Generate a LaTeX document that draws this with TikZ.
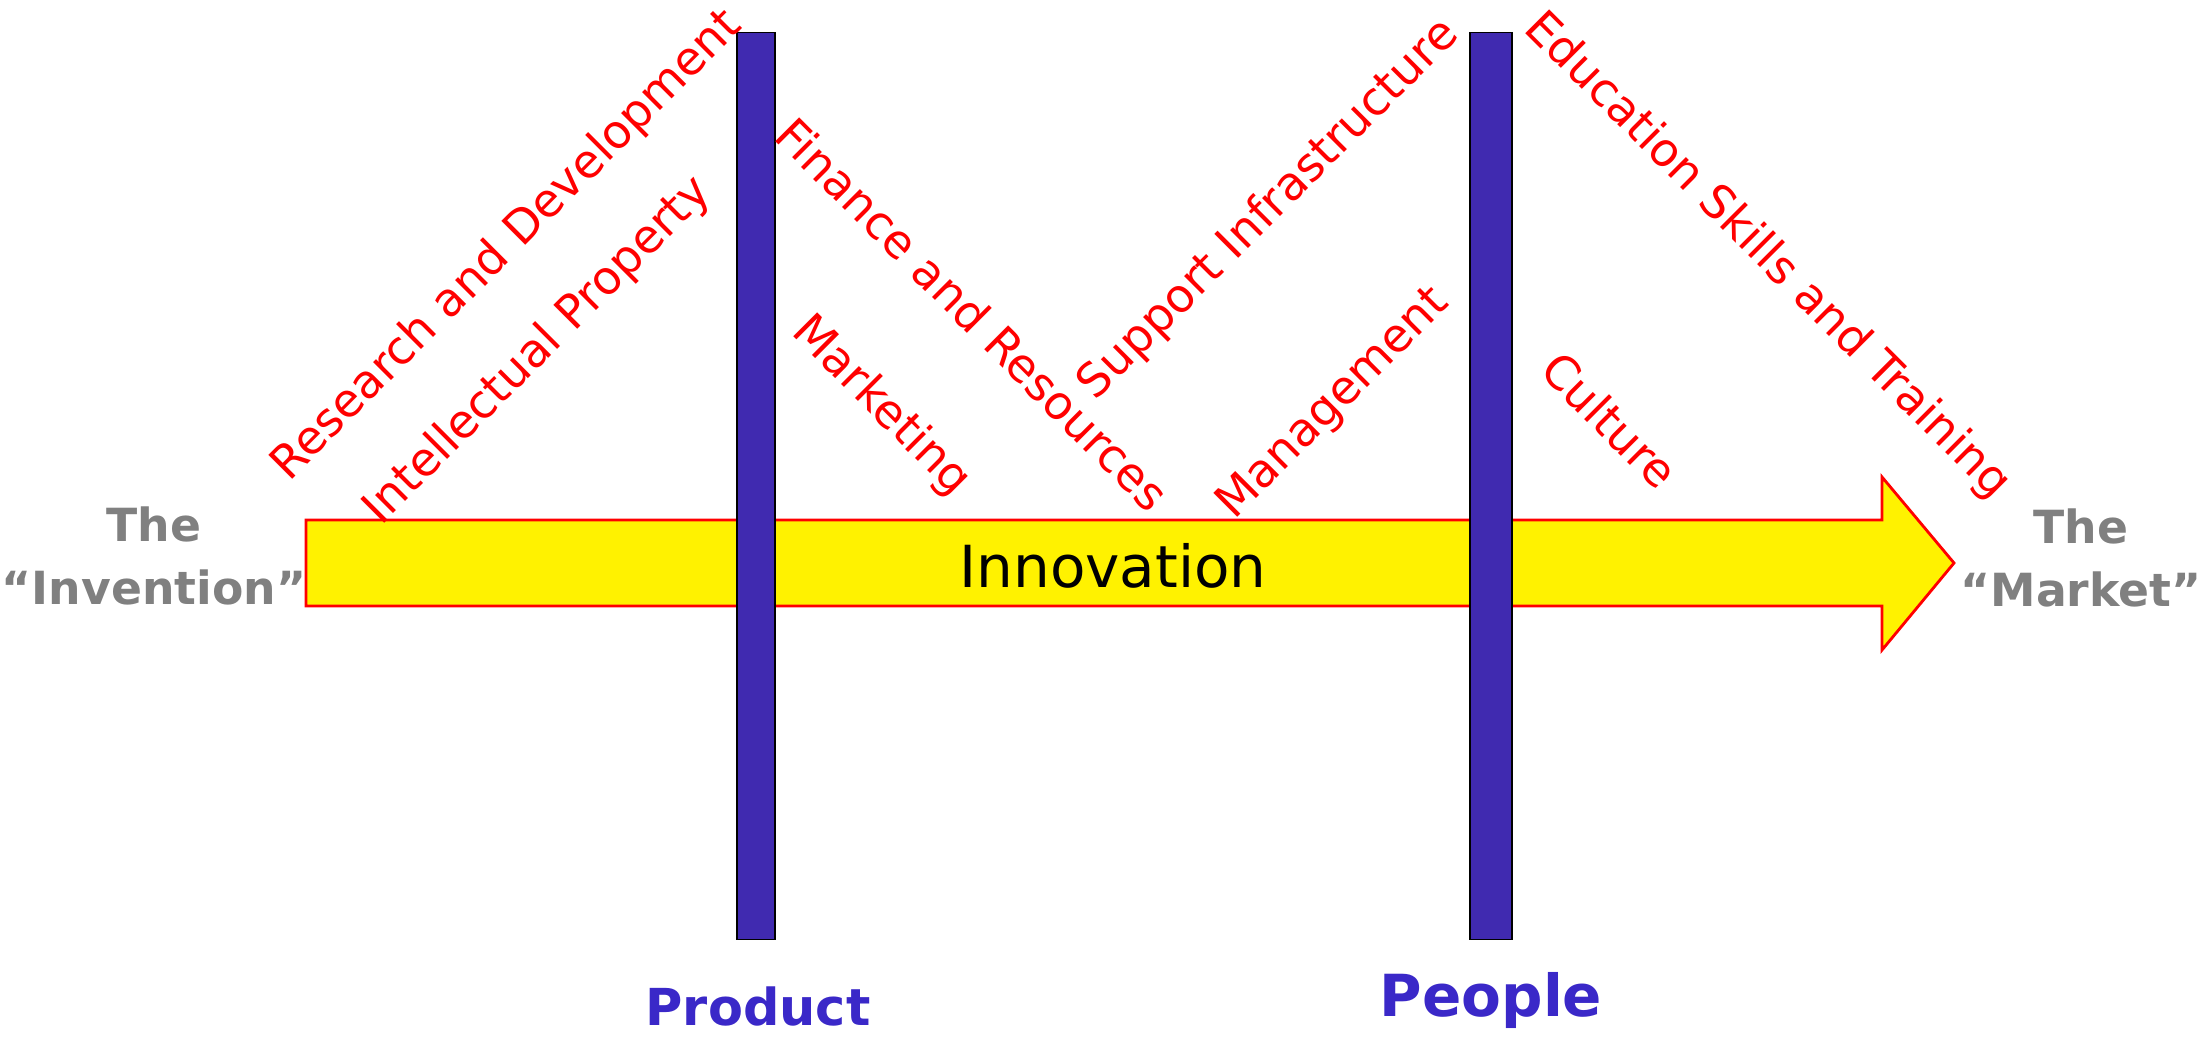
\documentclass[tikz,border=0pt]{standalone}
\usepackage{fontspec}
\setmainfont{DejaVu Sans}
\usetikzlibrary{positioning}
\definecolor{pillarblue}{RGB}{64,42,176}
\definecolor{labelblue}{RGB}{58,40,200}
\definecolor{endgray}{RGB}{128,128,128}

\begin{document}
\begin{tikzpicture}[
    x=0.1mm, y=-0.1mm,
    pillar/.style={draw=black, fill=pillarblue, line width=0.5pt,
                   minimum height=90.7mm, inner sep=0pt},
    pillarname/.style={text=labelblue, font=\bfseries\fontsize{14.5}{17}\selectfont},
    factor/.style={text=red, font=\fontsize{13.2}{16}\selectfont, inner sep=0pt},
    endpoint/.style={text=endgray, align=center, font=\bfseries\fontsize{13}{18}\selectfont},
]
  \useasboundingbox (0,0) rectangle (2201,1049);

  % the arrow
  \filldraw[fill=yellow, draw=red, line width=0.8pt]
    (306,520) -- (1882,520) -- (1882,477) -- (1954,563)
    -- (1882,650) -- (1882,606) -- (306,606) -- cycle;

  % the two pillars
  \node[pillar, minimum width=3.8mm] (prodbar) at (756,486) {};
  \node[pillar, minimum width=4.2mm] (peoplebar) at (1491,486) {};
  \node[pillarname] (product) at (758,1006) {Product};
  \node[pillarname, font=\bfseries\fontsize{16.5}{19}\selectfont] (people) at (1491,1000) {People};

  \node[font=\fontsize{16.5}{20}\selectfont] (innov) at (1113,566) {Innovation};
  \node[endpoint] (invention) at (154,556) {The\\“Invention”};
  \node[endpoint] (market) at (2081,558) {The\\“Market”};

  % factors along the way
  \node[factor, rotate=45]  (rd)      at (507,246)  {Research and Development};
  \node[factor, rotate=45]  (ip)      at (538,351)  {Intellectual Property};
  \node[factor, rotate=-45] (finance) at (973,314)  {Finance and Resources};
  \node[factor, rotate=-45] (mkt)     at (881,406)  {Marketing};
  \node[factor, rotate=45]  (support) at (1269,210) {Support Infrastructure};
  \node[factor, rotate=45]  (mgmt)    at (1334,404) {Management};
  \node[factor, rotate=-45] (edu)     at (1767,256) {Education Skills and Training};
  \node[factor, rotate=-45] (culture) at (1610,420) {Culture};
\end{tikzpicture}
\end{document}
